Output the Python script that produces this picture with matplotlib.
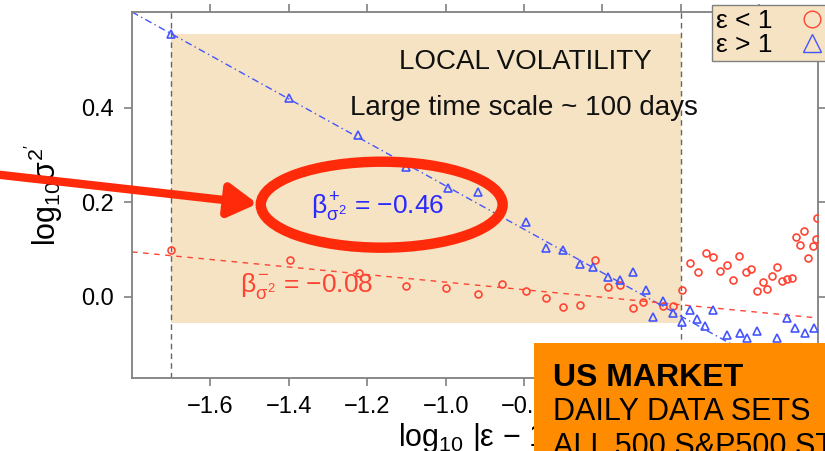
import matplotlib
matplotlib.use("Agg")
import matplotlib.pyplot as plt
from matplotlib.patches import Ellipse, Rectangle
from matplotlib.lines import Line2D

plt.rcParams["font.family"] = ["Liberation Sans", "DejaVu Sans"]
plt.rcParams["mathtext.fontset"] = "custom"
plt.rcParams["mathtext.rm"] = "Liberation Sans"
plt.rcParams["mathtext.it"] = "Liberation Sans"
plt.rcParams["mathtext.bf"] = "Liberation Sans:bold"

# ---------------------------------------------------------------------------
# Data
# ---------------------------------------------------------------------------
# eps < 1 (red circles)
below_x = [-1.70, -1.397, -1.222, -1.10, -1.00, -0.918, -0.855, -0.796, -0.743,
           -0.70, -0.656, -0.618, -0.585, -0.554, -0.521, -0.496, -0.445, -0.419,
           -0.396, -0.376, -0.355, -0.335, -0.317, -0.30, -0.282, -0.266, -0.251,
           -0.233, -0.22, -0.205, -0.19, -0.18, -0.167, -0.154, -0.141, -0.129,
           -0.116, -0.106, -0.085, -0.096, -0.075, -0.062, -0.055, -0.052]
below_y = [0.100, 0.078, 0.051, 0.023, 0.019, 0.006, 0.028, 0.013, -0.002,
           -0.021, -0.017, 0.078, 0.021, 0.025, -0.023, -0.011, -0.019, -0.019,
           0.015, 0.072, 0.053, 0.093, 0.085, 0.055, 0.068, 0.036, 0.087,
           0.053, 0.059, 0.013, 0.032, 0.017, 0.044, 0.064, 0.034, 0.038,
           0.040, 0.127, 0.140, 0.110, 0.083, 0.108, 0.123, 0.167]

# eps > 1 (blue triangles)
above_x = [-1.70, -1.40, -1.224, -1.10, -0.995, -0.918, -0.796, -0.745, -0.70,
           -0.656, -0.625, -0.585, -0.554, -0.521, -0.49, -0.445, -0.47, -0.419,
           -0.396, -0.376, -0.358, -0.337, -0.317, -0.282, -0.25, -0.232, -0.205,
           -0.154, -0.129, -0.108, -0.084, -0.059, -0.30, -0.26, -0.20, -0.10]
above_y = [0.557, 0.420, 0.343, 0.275, 0.231, 0.222, 0.159, 0.104, 0.100,
           0.070, 0.062, 0.042, 0.036, 0.053, 0.015, -0.010, -0.042, -0.034,
           -0.053, -0.028, -0.047, -0.062, -0.029, -0.080, -0.076, -0.087, -0.072,
           -0.087, -0.045, -0.066, -0.077, -0.066, -0.115, -0.120, -0.125, -0.120]

# fitted slopes and intercepts
beta_plus, icpt_plus = -0.46, -0.225
beta_minus, icpt_minus = -0.08, -0.049

x_ticks = [-1.6, -1.4, -1.2, -1.0, -0.8, -0.6, -0.4, -0.2]
x_tick_labels = ["\u22121.6", "\u22121.4", "\u22121.2", "\u22121.0", "\u22120.8",
                 "\u22120.6", "\u22120.4", "\u22120.2"]
y_ticks = [0.0, 0.2, 0.4]
y_tick_labels = ["0.0", "0.2", "0.4"]

window = (-1.7, -0.4)            # local-volatility fit window
window_y = (-0.055, 0.557)

RED = "#ff4433"
BLUE = "#4455ff"
WHEAT = "#f6e3c3"
GREY = "#808080"

# ---------------------------------------------------------------------------
# Figure
# ---------------------------------------------------------------------------
fig = plt.figure(figsize=(8.25, 4.51), dpi=100)
ax = fig.add_axes([132 / 825, 1 - 378 / 451, 686 / 825, 366 / 451])
ax.set_xlim(-1.8, -0.05)
ax.set_ylim(-0.172, 0.603)

ax.add_patch(Rectangle((window[0], window_y[0]), window[1] - window[0],
                       window_y[1] - window_y[0], facecolor=WHEAT,
                       edgecolor="none", zorder=0))
for xv in window:
    ax.axvline(xv, color="#666666", ls=(0, (4, 3)), lw=1.0, zorder=1)

ax.axline((0, icpt_plus), slope=beta_plus, color=BLUE, lw=1.0,
          ls=(0, (5, 2.5, 1, 2.5)), zorder=2)
ax.axline((0, icpt_minus), slope=beta_minus, color=RED, lw=1.0,
          ls=(0, (4, 4)), zorder=2)

ax.plot(below_x, below_y, ls="none", marker="o", ms=5, mfc="none",
        mec=RED, mew=1.2, zorder=3)
ax.plot(above_x, above_y, ls="none", marker="^", ms=5.5, mfc="none",
        mec=BLUE, mew=1.2, zorder=3)

ax.set_xticks(x_ticks)
ax.set_xticklabels(x_tick_labels)
ax.set_yticks(y_ticks)
ax.set_yticklabels(y_tick_labels)
ax.tick_params(direction="out", length=6, width=1.2, color=GREY,
               labelsize=17, top=True, right=True, pad=7)
for sp in ax.spines.values():
    sp.set_color(GREY)
    sp.set_linewidth(1.3)

ax.set_xlabel(r"log$_{10}$ |ε − 1|", fontsize=22, labelpad=2)
ax.set_ylabel(r"log$_{10}\sigma^{2'}$", fontsize=22, labelpad=12)

ax.text(-0.796, 0.497, "LOCAL VOLATILITY", fontsize=20, ha="center",
        va="center", color="#111111", zorder=4)
ax.text(-0.80, 0.400, "Large time scale ~ 100 days", fontsize=20,
        ha="center", va="center", color="#111111", zorder=4)
ax.text(-1.173, 0.19, r"$\beta^{+}_{\sigma^2}$ = −0.46", fontsize=19,
        ha="center", va="center", color="#2a2aff", zorder=4)
ax.text(-1.354, 0.022, r"$\beta^{-}_{\sigma^2}$ = −0.08", fontsize=19,
        ha="center", va="center", color=RED, zorder=4)

ax.add_patch(Ellipse((-1.163, 0.195), 0.617, 0.182, facecolor="none",
                     edgecolor="#ff2a0a", lw=7.5, zorder=5, clip_on=False))
ax.annotate("", xy=(-1.48, 0.197), xycoords="data",
            xytext=(-0.02, 1 - 173 / 451), textcoords="figure fraction",
            arrowprops=dict(arrowstyle="-|>,head_length=1.7,head_width=1.0",
                            color="#ff2a0a", lw=6, shrinkA=0, shrinkB=0),
            annotation_clip=False, zorder=5)

handles = [Line2D([], [], ls="none", marker="o", ms=12, mfc="none", mec=RED, mew=1),
           Line2D([], [], ls="none", marker="^", ms=13, mfc="none", mec=BLUE, mew=1)]
leg = ax.legend(handles, ["ε < 1", "ε > 1"], loc="upper left",
                bbox_to_anchor=(712 / 825, 1 - 5 / 451),
                bbox_transform=fig.transFigure, markerfirst=False,
                fancybox=False, framealpha=1, facecolor=WHEAT,
                edgecolor=GREY, fontsize=19, handlelength=1.2,
                handletextpad=0.9, borderpad=0.15, labelspacing=0.0,
                borderaxespad=0)
leg.set_zorder(6)

# orange banner overlapping the bottom-right corner
fig.add_artist(Rectangle((534 / 825, 0), 1 - 534 / 825, 1 - 343 / 451,
                         transform=fig.transFigure, facecolor="#ff8c00",
                         edgecolor="none", zorder=10))
fig.text(553 / 825, 1 - 378 / 451, "US MARKET", fontsize=23,
         fontweight="bold", va="center", ha="left", zorder=11)
fig.text(553 / 825, 1 - 412 / 451, "DAILY DATA SETS", fontsize=22,
         va="center", ha="left", zorder=11)
fig.text(553 / 825, 1 - 447 / 451, "ALL 500 S&P500 STOCKS", fontsize=22,
         va="center", ha="left", zorder=11)

fig.savefig("out.png", dpi=100)
